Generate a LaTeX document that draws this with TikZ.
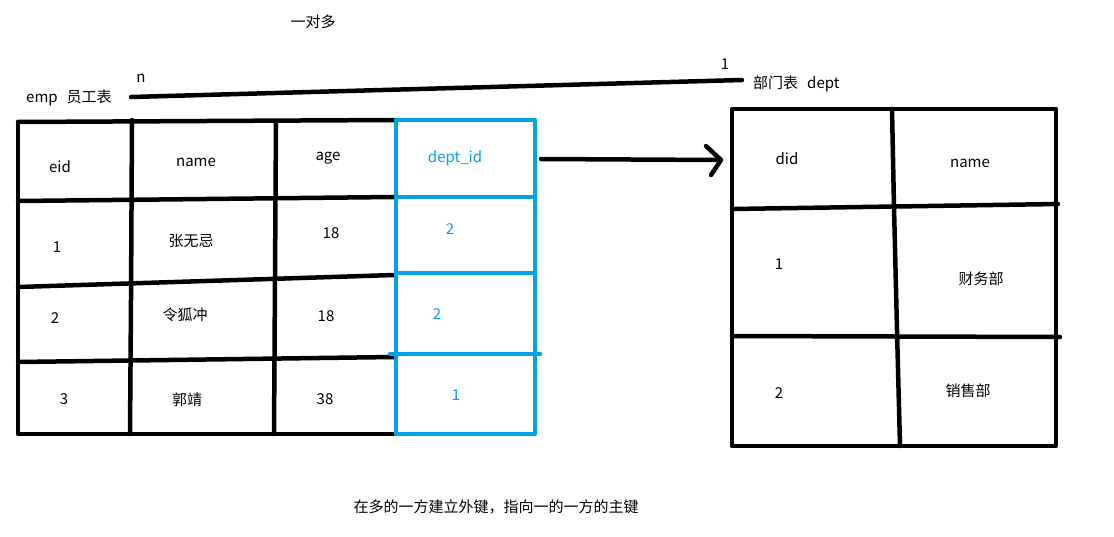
\documentclass[tikz,border=0pt]{standalone}
\usepackage{fontspec}
\setmainfont{Noto Sans CJK SC}
\definecolor{paintblue}{HTML}{00A2E8}
\begin{document}
\begin{tikzpicture}[x=1pt,y=-1pt,
  pen/.style={line width=4.5pt,line cap=round,line join=round},
  bluepen/.style={pen,draw=paintblue},
  txt/.style={inner sep=0pt,font=\fontsize{15}{17}\selectfont},
  bluetxt/.style={txt,text=paintblue}]
\useasboundingbox[fill=white] (0,0) rectangle (1114,536);

% titles
\node[txt] (title) at (313,22) {一对多};
\node[txt,anchor=west] (emplabel) at (26,98) {emp\hspace{9pt}员工表};
\node[txt] (nlabel) at (141,78) {n};
\node[txt] (onelabel) at (725,64) {1};
\node[txt,anchor=west] (deptlabel) at (753,84) {部门表\hspace{9pt}dept};
\coordinate (relS) at (131,97);
\coordinate (relE) at (742,80);
\draw[pen] (relS) -- (relE);

% emp table (black part)
\draw[pen] (18,122) -- (394,120);
\draw[pen] (18,122) -- (18,434) -- (394,434);
\draw[pen] (132,120) -- (131,300) -- (130,434);
\draw[pen] (276,121) -- (274,434);
\draw[pen] (18,201) -- (394,197);
\draw[pen] (18,287) -- (394,275);
\draw[pen] (18,362) -- (394,357);

% dept_id column (blue)
\draw[bluepen] (396,120) rectangle (535,434);
\draw[bluepen] (396,197) -- (535,197);
\draw[bluepen] (396,273) -- (535,273);
\draw[bluepen] (390,354) -- (540,354);

% emp texts
\node[txt] (h1) at (60,167) {eid};
\node[txt] (h2) at (196,162) {name};
\node[txt] (h3) at (328,158) {age};
\node[bluetxt] (h4) at (455,158) {dept\_id};
\node[txt] (r11) at (57,247) {1};
\node[txt] (r12) at (191,241) {张无忌};
\node[txt] (r13) at (331,233) {18};
\node[bluetxt] (r14) at (450,229) {2};
\node[txt] (r21) at (55,318) {2};
\node[txt] (r22) at (185,315) {令狐冲};
\node[txt] (r23) at (326,316) {18};
\node[bluetxt] (r24) at (437,314) {2};
\node[txt] (r31) at (64,399) {3};
\node[txt] (r32) at (187,400) {郭靖};
\node[txt] (r33) at (325,399) {38};
\node[bluetxt] (r34) at (456,395) {1};

% arrow
\coordinate (arrS) at (541,159);
\coordinate (arrE) at (721,160);
\draw[pen] (arrS) -- (arrE);
\draw[pen] (706,146) -- (arrE) -- (711,175);

% dept table
\draw[pen] (732,109) -- (1056,109) -- (1056,446) -- (732,446) -- cycle;
\draw[pen] (892,109) -- (894,207) -- (897,330) -- (900,446);
\draw[pen] (732,209) -- (1058,204);
\draw[pen] (732,336) -- (1060,337);

\node[txt] (d1) at (787,159) {did};
\node[txt] (d2) at (970,163) {name};
\node[txt] (d11) at (779,264) {1};
\node[txt] (d12) at (981,279) {财务部};
\node[txt] (d21) at (779,393) {2};
\node[txt] (d22) at (968,391) {销售部};

% footer
\node[txt] (foot) at (496,507) {在多的一方建立外键，指向一的一方的主键};
\end{tikzpicture}
\end{document}
